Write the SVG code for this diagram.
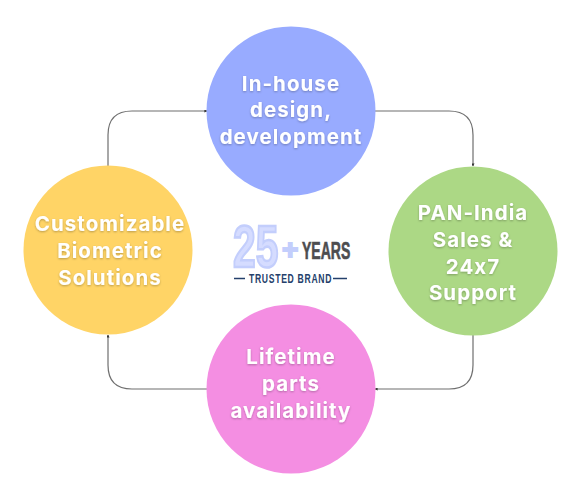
<svg xmlns="http://www.w3.org/2000/svg" width="582" height="500" viewBox="0 0 582 500">
<style>
.c{fill:none;stroke:#6f6f6f;stroke-width:1.2}
.t{font-family:"Inter","Open Sans","Liberation Sans",sans-serif;font-weight:700;font-size:20.500px;letter-spacing:1.05px;fill:#fff;text-anchor:middle;filter:url(#s)}
.l{font-family:"Liberation Sans",sans-serif;font-weight:700}
</style>
<defs>
<filter id="s" x="-20%" y="-30%" width="140%" height="170%"><feDropShadow dx="0" dy="1" stdDeviation="1.3" flood-color="#000" flood-opacity=".28"/></filter>
<marker id="a" markerWidth="3" markerHeight="3" refX="2.600" refY="1.500" orient="auto" markerUnits="userSpaceOnUse"><path d="M0 0L3 1.500L0 3Z" fill="#333"/></marker>
</defs>
<rect width="582" height="500" fill="#fff"/>
<g id="connectors">
<path class="c" marker-end="url(#a)" d="M108 166V135Q108 111 132 111H207"/>
<path class="c" marker-end="url(#a)" d="M375 111H449Q473 111 473 135V166"/>
<path class="c" marker-end="url(#a)" d="M473 335V365Q473 389 449 389H375"/>
<path class="c" marker-end="url(#a)" d="M207 389H132Q108 389 108 365V335"/>
</g>
<g id="node-top">
<circle cx="291" cy="111" r="84.500" fill="#98abff"/>
<text class="t" x="291" y="91">In-house</text>
<text class="t" x="291" y="117">design,</text>
<text class="t" x="291" y="144">development</text>
</g>
<g id="node-right">
<circle cx="473" cy="251" r="84.500" fill="#acd885"/>
<text class="t" x="473" y="220">PAN-India</text>
<text class="t" x="473" y="247">Sales &amp;</text>
<text class="t" x="473" y="274">24x7</text>
<text class="t" x="473" y="300">Support</text>
</g>
<g id="node-bottom">
<circle cx="291" cy="389" r="84.500" fill="#f48ee2"/>
<text class="t" x="291" y="364">Lifetime</text>
<text class="t" x="291" y="391">parts</text>
<text class="t" x="291" y="418">availability</text>
</g>
<g id="node-left">
<circle cx="108" cy="250" r="84.500" fill="#ffd466"/>
<text class="t" x="110" y="231">Customizable</text>
<text class="t" x="110" y="258">Biometric</text>
<text class="t" x="110" y="285">Solutions</text>
</g>
<g id="logo">
<text class="l" transform="translate(233 267) scale(.68 1)" font-size="60" fill="#d5dcff" stroke="#c3cefc" stroke-width="2.600">25</text>
<text class="l" transform="translate(282 259) scale(1 1)" font-size="28" fill="#c3cefc" stroke="#c3cefc" stroke-width="1.800">+</text>
<text class="l" transform="translate(302 259) scale(.61 1)" font-size="23" fill="#4d4d4f" stroke="#4d4d4f" stroke-width=".6">YEARS</text>
<text class="l" transform="translate(249 283) scale(.69 1)" font-size="12.500" letter-spacing="1" fill="#24406b">TRUSTED BRAND</text>
<path d="M234 278.500H245M333 278.500H347" stroke="#24406b" stroke-width="1.300" fill="none"/>
</g>
</svg>
